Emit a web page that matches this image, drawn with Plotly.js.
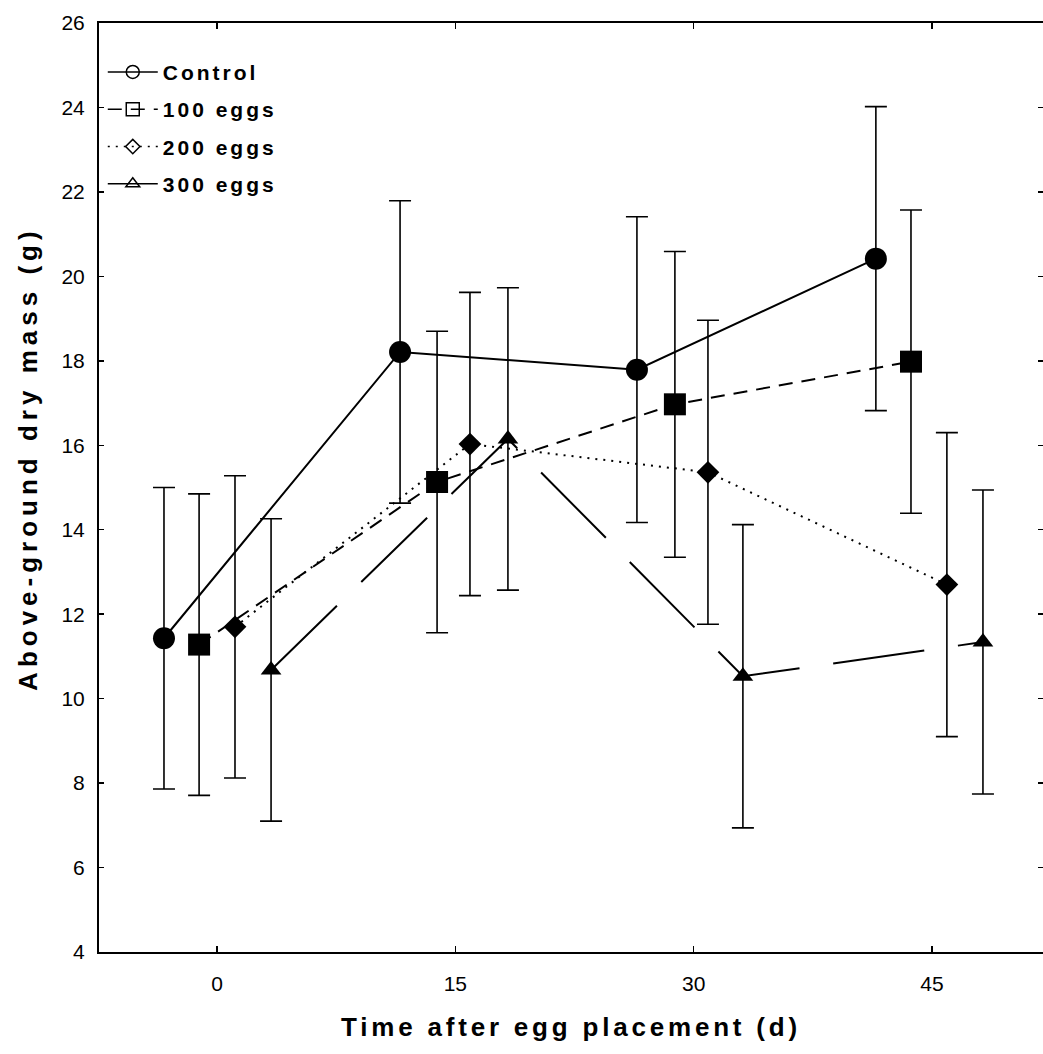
<!DOCTYPE html>
<html><head><meta charset="utf-8">
<script src="https://cdn.plot.ly/plotly-3.0.1.min.js"></script>
<style>
html,body{margin:0;padding:0;background:#fff}
#chart{width:1043px;height:1054px}
.legendtext{letter-spacing:3px}
.g-xtitle text{letter-spacing:3.8px}
.annotation-text{letter-spacing:5px}
</style></head><body><div id="chart"></div>
<script>
// Series names
const seriesNames = ['Control', '100 eggs', '200 eggs', '300 eggs'];

// Days after egg placement (points plotted with small offsets per group)
const controlX = [-3.34, 11.52, 26.43, 41.47];
const eggs100X = [-1.13, 13.85, 28.82, 43.68];
const eggs200X = [1.13, 15.92, 30.90, 45.94];
const eggs300X = [3.40, 18.31, 33.10, 48.21];

// Above-ground dry mass (g), means
const controlY = [11.43, 18.21, 17.79, 20.42];
const eggs100Y = [11.28, 15.13, 16.97, 17.98];
const eggs200Y = [11.70, 16.03, 15.36, 12.70];
const eggs300Y = [10.68, 16.15, 10.53, 11.34];

// Error bar half-lengths (g)
const controlErr = [3.57, 3.58, 3.62, 3.60];
const eggs100Err = [3.57, 3.57, 3.62, 3.59];
const eggs200Err = [3.58, 3.59, 3.60, 3.60];
const eggs300Err = [3.58, 3.58, 3.59, 3.60];

// Axis ticks
const xTickVals = [0, 15, 30, 45];
const yTickVals = [4, 6, 8, 10, 12, 14, 16, 18, 20, 22, 24, 26];

const xs = [controlX, eggs100X, eggs200X, eggs300X];
const ys = [controlY, eggs100Y, eggs200Y, eggs300Y];
const errs = [controlErr, eggs100Err, eggs200Err, eggs300Err];
const dashes = ['solid', '14px,9px', '2px,6px', '92px,34px'];
const symbols = ['circle', 'square', 'diamond', 'triangle-up'];
const sizes = [22, 22, 17.5, 18];
const legendSymbols = ['circle-open', 'square-open', 'diamond-open', 'triangle-up-open'];
const legendSizes = [13, 13, 11, 12];

const traces = [];
for (let i = 0; i < 4; i++) {
  traces.push({
    type: 'scatter', mode: 'lines+markers',
    x: xs[i], y: ys[i], name: seriesNames[i], showlegend: false,
    line: {color: '#000', width: 2, dash: dashes[i]},
    marker: {color: '#000', symbol: symbols[i], size: sizes[i]},
    error_y: {type: 'data', array: errs[i], visible: true, color: '#000', thickness: 1.6, width: 11}
  });
}
for (let i = 0; i < 4; i++) {
  traces.push({
    type: 'scatter', mode: 'lines+markers',
    x: [null], y: [null], name: seriesNames[i], showlegend: true,
    legendgroup: 'g' + i,
    line: {color: '#000', width: 1.5, dash: i === 3 ? 'solid' : dashes[i]},
    marker: {color: '#000', symbol: legendSymbols[i], size: legendSizes[i], line: {width: 1.5}}
  });
}
const layout = {
  width: 1043, height: 1054,
  paper_bgcolor: '#fff', plot_bgcolor: '#fff',
  margin: {l: 99, r: 0, t: 23, b: 102},
  font: {family: 'Liberation Sans, Arial, sans-serif', color: '#000'},
  showlegend: true,
  legend: {
    x: 0.004, y: 0.969, xanchor: 'left', yanchor: 'top',
    font: {size: 21, weight: 'bold', family: 'Liberation Sans, Arial, sans-serif'},
    bgcolor: 'rgba(0,0,0,0)', itemwidth: 50, traceorder: 'grouped', tracegroupgap: 7
  },
  xaxis: {
    range: [-7.43, 51.99], tickvals: xTickVals, ticktext: xTickVals.map(String),
    ticks: 'inside', ticklen: 6, tickwidth: 1.5, tickcolor: '#000',
    showline: true, linecolor: '#000', linewidth: 2, mirror: 'ticks',
    showgrid: false, zeroline: false,
    tickfont: {size: 21}, ticklabelstandoff: 12,
    title: {text: 'Time after egg placement (d)', font: {size: 26, weight: 'bold'}, standoff: 24}
  },
  yaxis: {
    range: [4, 26], tickvals: yTickVals, ticktext: yTickVals.map(String),
    ticks: 'inside', ticklen: 5, tickwidth: 1.5, tickcolor: '#000',
    showline: true, linecolor: '#000', linewidth: 2, mirror: 'ticks',
    showgrid: false, zeroline: false,
    tickfont: {size: 21}, ticklabelstandoff: 8
  },
  annotations: [{
    text: 'Above-ground dry mass (g)', textangle: -90,
    xref: 'paper', yref: 'paper', x: -0.0753, y: 0.5307,
    xanchor: 'center', yanchor: 'middle', showarrow: false,
    font: {size: 26, weight: 'bold', family: 'Liberation Sans, Arial, sans-serif'}
  }]
};
Plotly.newPlot('chart', traces, layout, {displayModeBar: false, staticPlot: true});
</script></body></html>
